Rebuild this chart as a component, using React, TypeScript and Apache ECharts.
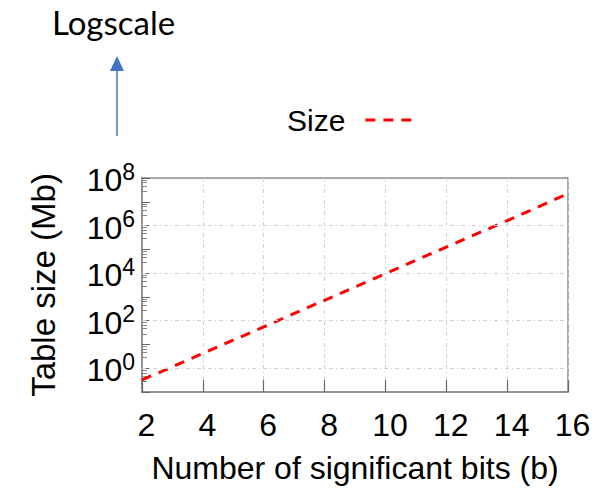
import React, { useEffect, useRef } from "react";
import * as echarts from "echarts";

const bits = [2, 4, 6, 8, 10, 12, 14, 16];
const sizeMb = [0.32, 4.2, 55, 720, 9500, 125000, 1600000, 22000000];
const xTicks = [2, 4, 6, 8, 10, 12, 14, 16];
const yLabelExponents = [0, 2, 4, 6, 8];
const gridValues = [1, 100, 10000, 1000000];

export default function App() {
  const ref = useRef<HTMLDivElement>(null);
  useEffect(() => {
    if (!ref.current) return;
    const chart = echarts.init(ref.current, null, { renderer: "svg" });
    const font = "'Liberation Sans', Arial, sans-serif";
    chart.setOption({
      animation: false,
      backgroundColor: "#ffffff",
      textStyle: { fontFamily: font },
      grid: {
        left: 142,
        top: 178,
        width: 426,
        height: 214,
        show: true,
        borderColor: "#8a8a8a",
        borderWidth: 1.5,
        containLabel: false,
      },
      legend: {
        data: ["Size"],
        left: 282,
        top: 100,
        align: "right",
        itemWidth: 46,
        itemHeight: 10,
        itemStyle: { opacity: 0 },
        lineStyle: { type: [10, 8], width: 3, color: "#ff0000" },
        textStyle: { fontSize: 30, color: "#000", fontFamily: font, padding: [0, 15, 0, 0] },
      },
      xAxis: {
        type: "value",
        min: 2,
        max: 16,
        interval: 2,
        name: "Number of significant bits (b)",
        nameLocation: "middle",
        nameGap: 60,
        nameTextStyle: { fontSize: 32, color: "#000", fontFamily: font },
        axisLine: { show: true, lineStyle: { color: "#8a8a8a", width: 1.5 } },
        axisTick: { show: true, inside: true, length: 12, lineStyle: { color: "#666", width: 1.2 } },
        axisLabel: {
          fontSize: 32,
          color: "#000",
          margin: 17,
          padding: [0, 0, 0, 9],
          fontFamily: font,
          customValues: xTicks,
        },
        splitLine: {
          show: true,
          lineStyle: { color: "#d0d0d0", type: [4, 3, 1, 3], width: 1 },
        },
      },
      yAxis: {
        type: "log",
        logBase: 10,
        min: 0.1,
        max: 100000000,
        name: "Table size (Mb)",
        nameLocation: "middle",
        nameRotate: 90,
        nameGap: 82,
        nameTextStyle: { fontSize: 33, color: "#000", fontFamily: font },
        axisLine: { show: true, lineStyle: { color: "#8a8a8a", width: 1.5 } },
        axisTick: { show: true, inside: true, length: 8, lineStyle: { color: "#666", width: 1 } },
        minorTick: { show: true, splitNumber: 5, length: 5, lineStyle: { color: "#888", width: 1 } },
        splitLine: { show: false },
        axisLabel: {
          margin: 7,
          fontFamily: font,
          formatter: (v: number) => {
            const e = Math.round(Math.log10(v));
            if (!yLabelExponents.includes(e)) return "";
            return `{b|10}{s|${e}}`;
          },
          rich: {
            b: { fontSize: 32, color: "#000", fontFamily: font, verticalAlign: "bottom", lineHeight: 36 },
            s: { fontSize: 23, color: "#000", fontFamily: font, verticalAlign: "top", lineHeight: 36 },
          },
        },
      },
      series: [
        {
          name: "Size",
          type: "line",
          data: bits.map((b, i) => [b, sizeMb[i]]),
          symbol: "none",
          lineStyle: { color: "#ff0000", width: 3, type: [10, 8] },
          itemStyle: { color: "#ff0000" },
          markLine: {
            silent: true,
            symbol: "none",
            label: { show: false },
            lineStyle: { color: "#d0d0d0", type: [4, 3, 1, 3], width: 1 },
            data: gridValues.map((v) => ({ yAxis: v })),
          },
        },
      ],
      graphic: [
        {
          type: "text",
          left: 52,
          top: 5,
          style: { text: "Logscale", fontSize: 33, fill: "#000", fontFamily: "Lato, 'Open Sans', sans-serif" },
        },
        {
          type: "line",
          shape: { x1: 117, y1: 136, x2: 117, y2: 70 },
          style: { stroke: "#4472c4", lineWidth: 1.5 },
        },
        {
          type: "polygon",
          shape: { points: [[117, 56], [110, 71], [124, 71]] },
          style: { fill: "#4472c4" },
        },
      ],
    });
    return () => chart.dispose();
  }, []);
  return (
    <div
      ref={ref}
      style={{ position: "fixed", left: 0, top: 0, width: 613, height: 492 }}
    />
  );
}
